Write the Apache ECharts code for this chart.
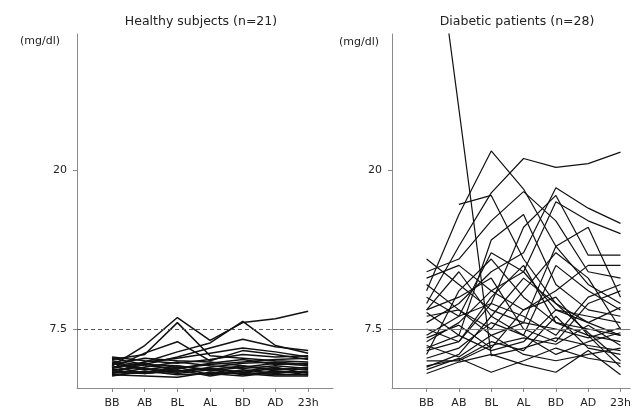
<!DOCTYPE html>
<html>
<head>
<meta charset="utf-8">
<script src="https://cdn.jsdelivr.net/npm/echarts@6/dist/echarts.min.js"></script>
<style>html,body{margin:0;padding:0;background:#fff}#c{width:634px;height:411px}</style>
</head>
<body>
<div id="c"></div>
<script>
const categories = ['BB', 'AB', 'BL', 'AL', 'BD', 'AD', '23h'];
const yTickLabels = [7.5, 20];
const threshold = 7.5;

const healthy = [
  [4.6, 6.2, 8.4, 6.6, 8.0, 8.3, 8.9],
  [5.1, 5.5, 8.0, 5.4, 5.2, 5.0, 4.9],
  [4.4, 4.9, 5.7, 6.4, 8.1, 6.2, 5.6],
  [4.2, 4.7, 5.3, 6.0, 6.7, 6.1, 5.8],
  [5.3, 5.0, 4.8, 5.1, 5.5, 5.3, 5.4],
  [5.0, 4.6, 4.4, 4.7, 4.9, 5.1, 5.2],
  [4.8, 4.3, 4.6, 4.2, 4.5, 4.8, 4.6],
  [4.5, 4.8, 4.2, 4.4, 4.1, 4.4, 4.3],
  [4.2, 4.1, 4.5, 3.9, 4.3, 4.0, 4.2],
  [4.0, 4.4, 4.0, 4.3, 3.9, 4.2, 3.9],
  [3.9, 3.8, 3.7, 4.1, 4.0, 3.8, 3.8],
  [4.1, 4.0, 4.3, 3.8, 4.2, 4.5, 4.0],
  [4.7, 5.2, 5.0, 4.9, 4.6, 4.3, 4.5],
  [4.3, 4.5, 4.9, 4.6, 4.4, 4.6, 4.4],
  [3.8, 4.2, 3.9, 4.0, 3.8, 4.1, 4.1],
  [4.9, 4.4, 4.1, 4.5, 4.8, 4.9, 4.7],
  [4.4, 5.6, 6.5, 5.0, 5.8, 5.5, 5.1],
  [4.0, 4.9, 5.2, 5.6, 6.0, 5.7, 5.3],
  [3.9, 4.1, 4.4, 4.8, 5.1, 4.7, 4.8],
  [5.2, 4.7, 4.6, 4.3, 4.6, 4.2, 4.1],
  [4.6, 4.0, 4.2, 4.4, 4.1, 3.9, 3.9]
];

const diabetic = [
  [44.0, 24.8, 5.4, 6.0, 6.8, 6.2, 5.8],
  [9.5, 14.0, 18.2, 20.9, 20.2, 20.5, 21.4],
  [10.5, 16.5, 21.5, 18.5, 14.0, 11.0, 9.5],
  [null, 17.3, 18.0, 13.0, 9.5, 8.0, 7.0],
  [8.0, 9.5, 12.0, 13.5, 18.6, 17.0, 15.8],
  [6.5, 8.0, 10.5, 12.0, 17.5, 16.0, 15.0],
  [7.0, 8.5, 9.5, 15.5, 18.0, 13.3, 13.3],
  [12.0, 13.0, 16.0, 18.3, 16.0, 12.0, 11.5],
  [11.5, 12.5, 10.5, 9.0, 10.5, 12.5, 12.5],
  [13.0, 11.0, 9.0, 8.0, 14.0, 15.5, 10.0],
  [6.0, 7.0, 14.5, 16.5, 11.0, 9.0, 8.5],
  [5.5, 10.5, 13.0, 10.0, 8.0, 7.5, 7.0],
  [9.0, 12.0, 8.5, 7.0, 12.5, 10.5, 9.0],
  [10.0, 8.5, 13.5, 12.0, 9.0, 8.5, 8.0],
  [8.5, 9.0, 7.5, 10.5, 13.5, 11.5, 7.5],
  [7.5, 6.5, 9.5, 8.5, 7.0, 10.0, 11.0],
  [6.8, 7.8, 6.0, 9.0, 10.0, 7.0, 6.5],
  [5.2, 6.0, 8.0, 7.0, 5.5, 6.5, 7.2],
  [4.6, 5.1, 6.5, 5.8, 8.5, 6.0, 5.5],
  [4.3, 5.2, 4.1, 5.0, 6.0, 5.2, 4.8],
  [4.0, 4.9, 5.5, 4.7, 4.1, 5.8, 3.9],
  [5.0, 5.0, 6.2, 6.8, 6.3, 7.8, 6.2],
  [6.2, 5.3, 7.0, 8.0, 7.5, 6.8, 7.6],
  [8.8, 7.0, 5.8, 6.5, 9.0, 8.0, 9.2],
  [4.5, 5.5, 8.5, 11.5, 9.5, 7.2, 5.0],
  [9.0, 10.0, 11.5, 7.5, 6.5, 9.5, 10.5],
  [11.0, 9.0, 7.0, 5.5, 5.0, 5.5, 6.0],
  [5.8, 6.5, 10.0, 12.5, 8.0, 7.0, 4.5]
];

const FONT = 'DejaVu Sans';
const axisGray = '#8a8a8a';

function yAxisCfg(idx) {
  return {
    type: 'value', gridIndex: idx, min: 2.86, max: 30.69,
    splitLine: { show: false },
    axisLine: { show: true, onZero: false, lineStyle: { color: axisGray, width: 1 } },
    axisTick: { show: true, length: 4, customValues: yTickLabels, lineStyle: { color: axisGray } },
    axisLabel: { customValues: yTickLabels, margin: 10, color: '#222', fontFamily: FONT, fontSize: 11 }
  };
}
function xAxisCfg(idx, max) {
  return {
    type: 'value', gridIndex: idx, min: -1.07, max: max,
    splitLine: { show: false },
    axisLine: { show: true, onZero: false, lineStyle: { color: axisGray, width: 1 } },
    axisTick: { show: true, length: 4, customValues: categories.map((c, i) => i), lineStyle: { color: axisGray } },
    axisLabel: {
      customValues: categories.map((c, i) => i), margin: 10,
      formatter: v => categories[Math.round(v)] || '',
      color: '#222', fontFamily: FONT, fontSize: 11
    }
  };
}
function makeSeries(list, idx, markStyle, lw) {
  return list.map((vals, k) => {
    const s = {
      type: 'line', xAxisIndex: idx, yAxisIndex: idx,
      data: vals.map((v, i) => [i, v]).filter(p => p[1] !== null),
      symbol: 'none', silent: true, animation: false,
      lineStyle: { color: '#111', width: lw }
    };
    if (k === 0) {
      s.markLine = {
        silent: true, symbol: 'none', animation: false,
        label: { show: false },
        lineStyle: markStyle,
        data: [{ yAxis: threshold }]
      };
    }
    return s;
  });
}

const chart = echarts.init(document.getElementById('c'), null, { renderer: 'canvas' });
chart.setOption({
  backgroundColor: '#fff',
  animation: false,
  grid: [
    { left: 77, right: 301, top: 34, bottom: 23 },
    { left: 392, right: 0, top: 34, bottom: 23 }
  ],
  xAxis: [xAxisCfg(0, 6.76), xAxisCfg(1, 6.30)],
  yAxis: [yAxisCfg(0), yAxisCfg(1)],
  graphic: [
    { type: 'text', x: 201, y: 22, style: { text: 'Healthy subjects (n=21)', fill: '#222', font: '12.5px "DejaVu Sans"', textAlign: 'center', textVerticalAlign: 'middle' } },
    { type: 'text', x: 517, y: 22, style: { text: 'Diabetic patients (n=28)', fill: '#222', font: '12.5px "DejaVu Sans"', textAlign: 'center', textVerticalAlign: 'middle' } },
    { type: 'text', x: 40, y: 41, style: { text: '(mg/dl)', fill: '#222', font: '11px "DejaVu Sans"', textAlign: 'center', textVerticalAlign: 'middle' } },
    { type: 'text', x: 359, y: 42, style: { text: '(mg/dl)', fill: '#222', font: '11px "DejaVu Sans"', textAlign: 'center', textVerticalAlign: 'middle' } }
  ],
  series: [
    ...makeSeries(healthy, 0, { color: '#555', width: 1, type: [4, 3] }, 1.5),
    ...makeSeries(diabetic, 1, { color: '#777', width: 1, type: 'solid' }, 1.2)
  ]
});
</script>
</body>
</html>
